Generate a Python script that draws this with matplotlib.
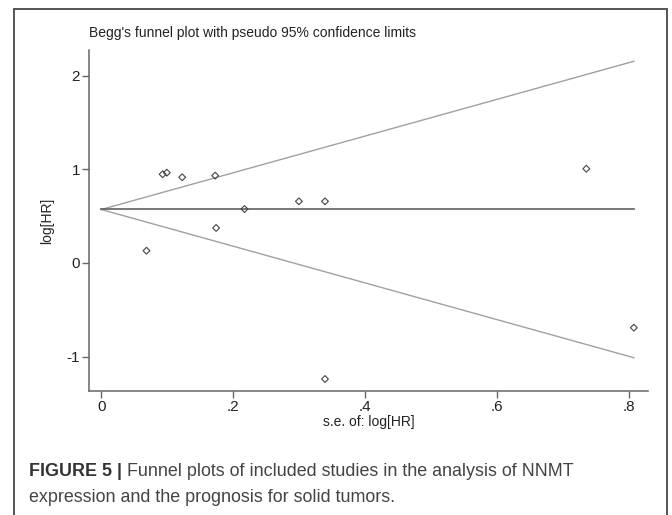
import matplotlib.pyplot as plt
import matplotlib.patches as mpatches
import numpy as np

plt.rcParams['font.family'] = ['Liberation Sans', 'DejaVu Sans']

# study data
se_loghr = [0.0685, 0.093, 0.0993, 0.1226, 0.1726, 0.174, 0.217, 0.2995, 0.339, 0.339, 0.735, 0.807]
loghr = [0.131, 0.947, 0.964, 0.915, 0.932, 0.374, 0.576, 0.658, 0.658, -1.238, 1.006, -0.69]
pooled = 0.571

xticks = [0, 0.2, 0.4, 0.6, 0.8]
xticklabels = ['0', '.2', '.4', '.6', '.8']
yticks = [-1, 0, 1, 2]
yticklabels = ['-1', '0', '1', '2']

W, H = 672, 515
fig = plt.figure(figsize=(W / 100, H / 100), dpi=100)

# outer frame of the figure panel (bottom edge runs off the picture)
fig.patches.append(mpatches.Rectangle((14 / W, -0.05), (667 - 14) / W, 1 - 9 / H + 0.05,
                                      transform=fig.transFigure, fill=False,
                                      edgecolor='#555555', linewidth=1.4))

ax = fig.add_axes([89 / W, 1 - 391 / H, (647.7 - 89) / W, (391 - 50) / H])

se_max = max(se_loghr)
s = np.array([0, se_max])
ax.plot(s, pooled + 1.96 * s, color='#a0a0a0', lw=1.0)
ax.plot(s, pooled - 1.96 * s, color='#a0a0a0', lw=1.0)
ax.plot(s, [pooled, pooled], color='#606060', lw=1.2)
ax.scatter(se_loghr, loghr, marker='D', s=12, facecolors='none',
           edgecolors='#444444', linewidths=0.8, zorder=3)

ax.set_xlim(-0.0186, 0.828)
ax.set_ylim(-1.366, 2.273)
ax.set_xticks(xticks)
ax.set_xticklabels(xticklabels)
ax.set_yticks(yticks)
ax.set_yticklabels(yticklabels)
ax.tick_params(direction='out', length=5, width=1, color='#666666',
               labelsize=11, labelcolor='#222222', pad=1.5)
ax.spines[['right', 'top']].set_visible(False)
for sp in ['left', 'bottom']:
    ax.spines[sp].set_color('#666666')
    ax.spines[sp].set_linewidth(1.1)

ax.set_xlabel('s.e. of: log[HR]', fontsize=10, color='#222222', labelpad=1)
ax.set_ylabel('log[HR]', fontsize=10, color='#222222', labelpad=9)
fig.text(89 / W, 1 - 33 / H, "Begg's funnel plot with pseudo 95% confidence limits",
         fontsize=10, color='#222222', va='center', ha='left')

# caption
r = fig.canvas.get_renderer()
t1 = fig.text(29 / W, 1 - 471 / H, 'FIGURE 5 | ', fontsize=12.9, fontweight='bold',
              color='#333333', va='center', ha='left')
bb = t1.get_window_extent(r)
fig.text(bb.x1 / W, 1 - 471 / H, 'Funnel plots of included studies in the analysis of NNMT',
         fontsize=12.9, color='#444444', va='center', ha='left')
fig.text(29 / W, 1 - 498 / H, 'expression and the prognosis for solid tumors.',
         fontsize=12.9, color='#444444', va='center', ha='left')

fig.savefig('out.png', dpi=100)
